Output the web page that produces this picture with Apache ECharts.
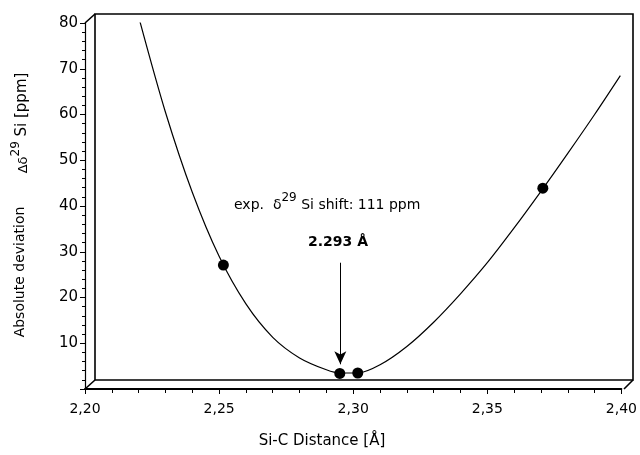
<!DOCTYPE html>
<html>
<head>
<meta charset="utf-8">
<script src="https://cdn.jsdelivr.net/npm/echarts@6/dist/echarts.min.js"></script>
<style>html,body{margin:0;padding:0;background:#fff}#c{width:640px;height:455px}</style>
</head>
<body>
<div id="c"></div>
<script>
// Data
const curveX = [2.2204, 2.23, 2.24, 2.25, 2.26, 2.27, 2.28, 2.29, 2.295, 2.3017, 2.31, 2.32, 2.33, 2.34, 2.35, 2.36, 2.37, 2.38, 2.39, 2.3996];
const curveY = [80.5, 60.5, 43.0, 29.0, 18.6, 11.3, 6.8, 4.2, 3.5, 3.5, 5.3, 9.3, 14.6, 20.8, 27.6, 35.2, 43.2, 51.5, 60.0, 68.5];
const pointX = [2.2516, 2.2950, 2.3017, 2.3707];
const pointY = [27.1, 3.4, 3.5, 43.9];
const arrowX = 2.2952;
const arrowFromY = 27.6;
const arrowToY = 5.4;
const xTicks = [2.20, 2.25, 2.30, 2.35, 2.40];
const yTicks = [10, 20, 30, 40, 50, 60, 70, 80];

const FONT = 'DejaVu Sans';
// frame geometry (front plane and back wall)
const F = {left: 85, top: 23, width: 539, height: 366};
const D = {dx: 10, dy: -9};
const B = {left: F.left + D.dx, top: F.top + D.dy, width: F.width - 1, height: F.height};

const chart = echarts.init(document.getElementById('c'), null, {renderer: 'canvas'});
const line = (x1, y1, x2, y2, w) => ({type: 'line', shape: {x1, y1, x2, y2}, style: {stroke: '#000', lineWidth: w}, z: 10});

chart.setOption({
  animation: false,
  backgroundColor: '#fff',
  grid: [
    {left: F.left, top: F.top, width: F.width, height: F.height, show: false},
    {left: B.left, top: B.top, width: B.width, height: B.height, show: true, borderColor: '#000', borderWidth: 1.6, backgroundColor: 'transparent'}
  ],
  xAxis: [
    {gridIndex: 0, type: 'value', min: 2.2, max: 2.4, interval: 0.05,
      axisLine: {show: true, onZero: false, lineStyle: {color: '#000', width: 1.8}},
      axisTick: {show: true, inside: false, length: 5, lineStyle: {color: '#000', width: 1}},
      minorTick: {show: true, splitNumber: 5, length: 4, lineStyle: {color: '#000', width: 1}},
      splitLine: {show: false},
      axisLabel: {margin: 13, color: '#000', fontFamily: FONT, fontSize: 14,
        formatter: v => xTicks.some(t => Math.abs(t - v) < 1e-6) ? v.toFixed(2).replace('.', ',') : ''}
    },
    {gridIndex: 1, type: 'value', min: 2.2, max: 2.4, show: false}
  ],
  yAxis: [
    {gridIndex: 0, type: 'value', min: 0, max: 80, interval: 10,
      axisLine: {show: true, onZero: false, lineStyle: {color: '#000', width: 1.2}},
      axisTick: {show: true, inside: false, length: 5, lineStyle: {color: '#000', width: 1}},
      minorTick: {show: true, splitNumber: 5, length: 3, lineStyle: {color: '#000', width: 1}},
      splitLine: {show: false},
      axisLabel: {margin: 7, color: '#000', fontFamily: FONT, fontSize: 15,
        formatter: v => yTicks.indexOf(v) >= 0 ? String(v) : ''}
    },
    {gridIndex: 1, type: 'value', min: 0, max: 80, show: false}
  ],
  series: [
    {type: 'line', xAxisIndex: 0, yAxisIndex: 0, smooth: 0.3, showSymbol: false,
      lineStyle: {color: '#000', width: 1.2},
      data: curveX.map((x, i) => [x, curveY[i]]), z: 3},
    {type: 'scatter', xAxisIndex: 0, yAxisIndex: 0, symbol: 'circle', symbolSize: 11,
      itemStyle: {color: '#000', opacity: 1},
      data: pointX.map((x, i) => [x, pointY[i]]), z: 4,
      markLine: {silent: true, symbol: ['none', 'arrow'], symbolSize: [9, 13],
        lineStyle: {color: '#000', width: 1, type: 'solid'}, label: {show: false},
        data: [[{coord: [arrowX, arrowFromY]}, {coord: [arrowX, arrowToY]}]]}
    }
  ],
  graphic: [
    line(F.left, F.top, B.left, B.top, 1.6),
    line(F.left, F.top + F.height, B.left, B.top + B.height, 1.6),
    line(F.left + F.width, F.top + F.height, B.left + B.width, B.top + B.height, 1.6),
    {type: 'text', x: 20, y: 123, rotation: Math.PI / 2, z: 10,
      style: {text: '{s|Δδ}{sup|29}{n| Si [ppm]}', align: 'center', verticalAlign: 'middle', fill: '#000',
        rich: {s: {fontFamily: FONT, fontSize: 13, verticalAlign: 'bottom', lineHeight: 20},
               sup: {fontFamily: FONT, fontSize: 12, verticalAlign: 'top', lineHeight: 20},
               n: {fontFamily: FONT, fontSize: 15, verticalAlign: 'bottom', lineHeight: 20}}}},
    {type: 'text', x: 20, y: 272, rotation: Math.PI / 2, z: 10,
      style: {text: 'Absolute deviation', align: 'center', verticalAlign: 'middle', fill: '#000',
        fontFamily: FONT, fontSize: 14}},
    {type: 'text', x: 322, y: 441, z: 10,
      style: {text: 'Si-C Distance [Å]', align: 'center', verticalAlign: 'middle', fill: '#000',
        fontFamily: FONT, fontSize: 15}},
    {type: 'text', x: 234, y: 202, z: 10,
      style: {text: '{n|exp.  δ}{sup|29}{n| Si shift: 111 ppm}', align: 'left', verticalAlign: 'middle', fill: '#000',
        rich: {n: {fontFamily: FONT, fontSize: 14, verticalAlign: 'bottom', lineHeight: 20},
               sup: {fontFamily: FONT, fontSize: 12, verticalAlign: 'top', lineHeight: 20}}}},
    {type: 'text', x: 338, y: 242, z: 10,
      style: {text: '2.293 Å', align: 'center', verticalAlign: 'middle', fill: '#000',
        fontFamily: FONT, fontSize: 14, fontWeight: 'bold'}}
  ]
});
</script>
</body>
</html>
